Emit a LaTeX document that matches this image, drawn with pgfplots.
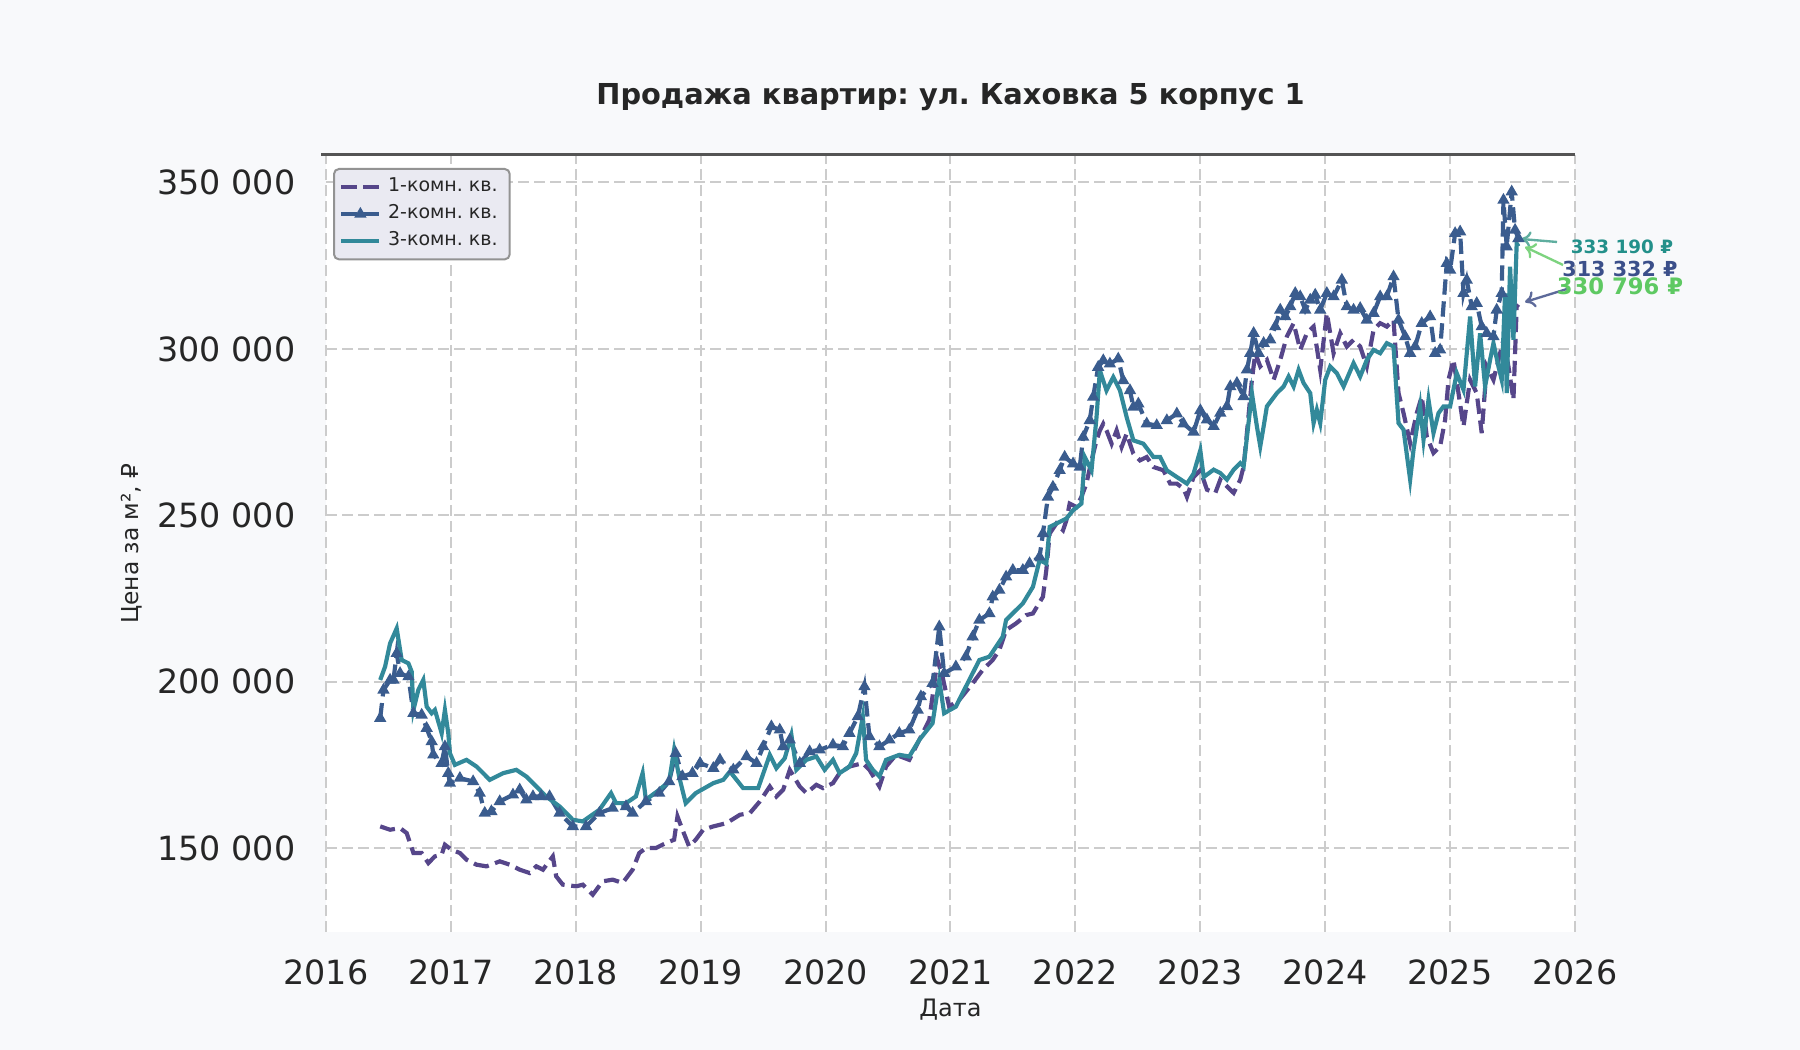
\documentclass[border=0pt]{standalone}
\usepackage{fontspec}
\setmainfont{DejaVu Sans}
\usepackage{pgfplots}
\pgfplotsset{compat=1.18}
\usetikzlibrary{arrows.meta}
\frenchspacing

\definecolor{figbg}{HTML}{F8F9FB}
\definecolor{legbg}{HTML}{EAEAF2}
\definecolor{gridc}{HTML}{CCCCCC}
\definecolor{txt}{HTML}{262626}
\definecolor{cone}{HTML}{56468A}
\definecolor{ctwo}{HTML}{3A5C8E}
\definecolor{cthree}{HTML}{32899A}
\definecolor{tone}{HTML}{23908A}
\definecolor{ttwo}{HTML}{3B4F8A}
\definecolor{tthree}{HTML}{5EC962}
\definecolor{aone}{HTML}{5FAE9F}
\definecolor{atwo}{HTML}{7DD37F}
\definecolor{athree}{HTML}{5D6A9A}

\begin{document}
\begin{tikzpicture}
\useasboundingbox (0,0) rectangle (540pt,315pt);
\fill[figbg] (0,0) rectangle (540pt,315pt);
\begin{axis}[
    at={(97.8pt,35.4pt)}, anchor=south west,
    scale only axis,
    width=374.7pt, height=233.1pt,
    xmin=2016, xmax=2026,
    ymin=124775, ymax=358264,
    clip=false,
    axis background/.style={fill=white},
    axis line style={draw=none},
    major tick length=0pt,
    xtick={2016,2017,...,2026},
    ytick={150000,200000,250000,300000,350000},
    scaled y ticks=false,
    /pgf/number format/assume math mode=true,
    xticklabel style={/pgf/number format/fixed, /pgf/number format/1000 sep={}, anchor=north, inner sep=0pt, yshift=-8pt},
    yticklabel style={/pgf/number format/fixed, /pgf/number format/1000 sep={\ }, anchor=east, inner sep=0pt, xshift=-9pt},
    tick label style={font=\fontsize{10}{12}\selectfont, text=txt},
    grid=major,
    major grid style={gridc, line width=0.6pt, dash pattern=on 3.3pt off 1.5pt},
    title={\textbf{Продажа квартир: ул. Каховка 5 корпус 1}},
    title style={at={(axis description cs:0.5,1.049)}, anchor=center, font=\fontsize{8.65}{10}\selectfont, text=txt},
    xlabel={Дата},
    xlabel style={at={(axis description cs:0.5,-0.1004)}, anchor=center, font=\fontsize{7.2}{9}\selectfont, text=txt},
    ylabel={Цена за м², ₽},
    ylabel style={at={(axis description cs:-0.1553,0.5)}, anchor=center, font=\fontsize{7}{9}\selectfont, text=txt},
    legend cell align=left,
    legend style={at={(rel axis cs:0,1)}, anchor=north west, xshift=2.1pt, yshift=-3.9pt,
        fill=legbg, draw=gray!85, line width=0.6pt, rounded corners=1.5pt,
        font=\fontsize{5.7}{7}\selectfont, text=txt, row sep=-1.6pt, inner xsep=1.6pt, inner ysep=0.6pt},
    legend image code/.code={
        \draw[mark repeat=2,mark phase=2,#1] plot coordinates {(0cm,0cm) (0.2cm,0cm) (0.4cm,0cm)};
    },
]

% 1-room
\addplot[cone, line width=1.25pt, dash pattern=on 4.6pt off 2pt] coordinates {
(2016.434,156500) (2016.513,155500) (2016.593,156000) (2016.646,154500) (2016.70,148500)
(2016.766,148500) (2016.819,145500) (2016.872,147500) (2016.926,148000) (2016.952,151000)
(2017.005,149500) (2017.072,148500) (2017.125,146500) (2017.205,145000) (2017.285,144500)
(2017.391,146000) (2017.471,145000) (2017.551,143500) (2017.630,142500) (2017.684,144500)
(2017.737,143500) (2017.816,147500) (2017.843,141500) (2017.896,139000) (2018.003,138500)
(2018.056,139000) (2018.136,136000) (2018.215,140000) (2018.295,140500) (2018.375,139500)
(2018.455,143500) (2018.508,148500) (2018.561,150000) (2018.641,150000) (2018.721,151500)
(2018.787,152500) (2018.814,159500) (2018.854,155500) (2018.907,150500) (2018.960,152500)
(2019.020,155500) (2019.101,156500) (2019.207,157500) (2019.314,160000) (2019.394,160500)
(2019.473,164000) (2019.553,168500) (2019.606,165500) (2019.660,167500) (2019.713,173500)
(2019.793,168500) (2019.846,166500) (2019.926,169000) (2019.979,168000) (2020.059,169500)
(2020.112,172500) (2020.191,174500) (2020.298,175500) (2020.351,173500) (2020.431,168500)
(2020.484,174500) (2020.564,178000) (2020.670,176500) (2020.750,182500) (2020.830,188500)
(2020.896,206500) (2020.936,201500) (2020.989,192500) (2021.070,194500) (2021.177,199500)
(2021.257,203500) (2021.338,206500) (2021.391,209500) (2021.445,215500) (2021.525,217500)
(2021.606,220000) (2021.660,220500) (2021.740,225500) (2021.767,233500) (2021.794,244500)
(2021.847,247500) (2021.901,245500) (2021.928,248500) (2021.954,253500) (2022.008,252500)
(2022.048,255500) (2022.088,259500) (2022.129,266500) (2022.169,272500) (2022.196,275500)
(2022.223,277500) (2022.249,275500) (2022.290,271500) (2022.330,275500) (2022.370,270500)
(2022.410,274500) (2022.464,268500) (2022.517,266500) (2022.571,267500) (2022.625,264500)
(2022.705,263500) (2022.759,259500) (2022.812,259500) (2022.866,258000) (2022.893,255500)
(2022.946,261500) (2023.000,263500) (2023.053,257700) (2023.120,256700) (2023.160,260700)
(2023.213,258700) (2023.267,256700) (2023.320,260700) (2023.347,264700) (2023.373,274700)
(2023.413,290700) (2023.440,298700) (2023.480,294700) (2023.533,296700) (2023.587,290700)
(2023.640,296700) (2023.693,303700) (2023.747,307700) (2023.800,299700) (2023.853,304700)
(2023.907,306700) (2023.960,293700) (2024.013,310700) (2024.067,298700) (2024.120,304700)
(2024.173,300700) (2024.227,302700) (2024.280,300700) (2024.333,294700) (2024.387,305700)
(2024.440,307700) (2024.493,306700) (2024.547,308700) (2024.587,286700) (2024.627,280700)
(2024.680,271700) (2024.733,280700) (2024.773,285700) (2024.813,273700) (2024.867,268700)
(2024.920,270700) (2024.960,278700) (2024.987,290700) (2025.027,296700) (2025.067,286700)
(2025.107,276700) (2025.160,290700) (2025.213,286700) (2025.253,274700) (2025.293,294700)
(2025.347,290700) (2025.387,296700) (2025.427,302700) (2025.467,294700) (2025.507,284700)
(2025.533,312700) (2025.547,313332)
};
\addlegendentry{1-комн. кв.}

% 2-room
\addplot[ctwo, line width=1.25pt, dash pattern=on 4.6pt off 2pt, mark=triangle*, mark size=0.9pt, mark options={solid}] coordinates {
(2016.434,189000) (2016.460,197500) (2016.513,200500) (2016.540,200500) (2016.566,208500)
(2016.593,202500) (2016.660,201500) (2016.700,190500) (2016.766,190000) (2016.806,186000)
(2016.846,182000) (2016.859,178000) (2016.926,175500) (2016.952,180500) (2016.979,172500)
(2016.992,169500) (2017.072,171000) (2017.178,170000) (2017.231,166500) (2017.271,160500)
(2017.324,161000) (2017.391,164000) (2017.497,166000) (2017.551,167500) (2017.604,164500)
(2017.657,165500) (2017.723,165500) (2017.790,165500) (2017.870,160500) (2017.976,156500)
(2018.082,156500) (2018.189,160500) (2018.295,162000) (2018.402,162500) (2018.455,160500)
(2018.561,164000) (2018.668,166500) (2018.747,170000) (2018.800,178500) (2018.854,171500)
(2018.934,172500) (2018.995,175500) (2019.101,174000) (2019.154,176500) (2019.261,173500)
(2019.367,177500) (2019.447,175500) (2019.500,180500) (2019.566,186500) (2019.633,185500)
(2019.660,180500) (2019.713,182500) (2019.793,175500) (2019.872,179000) (2019.952,179500)
(2020.059,181000) (2020.138,180500) (2020.191,184500) (2020.258,189500) (2020.311,198500)
(2020.351,183500) (2020.431,180500) (2020.511,182500) (2020.590,184500) (2020.670,185500)
(2020.737,191500) (2020.763,195500) (2020.856,199500) (2020.910,216500) (2020.949,202500)
(2021.043,204500) (2021.123,207500) (2021.177,213500) (2021.231,218500) (2021.311,220500)
(2021.338,225500) (2021.391,227500) (2021.445,231500) (2021.499,233500) (2021.579,233500)
(2021.633,235500) (2021.713,237500) (2021.740,244500) (2021.780,255500) (2021.820,258500)
(2021.874,263500) (2021.914,267500) (2021.981,265500) (2022.035,264500) (2022.062,273500)
(2022.115,278500) (2022.142,285500) (2022.182,294500) (2022.223,296500) (2022.276,295500)
(2022.343,297000) (2022.383,290500) (2022.437,287500) (2022.464,282500) (2022.504,283500)
(2022.571,277500) (2022.651,277000) (2022.732,278500) (2022.812,280500) (2022.866,277500)
(2022.946,275000) (2023.000,281500) (2023.053,278700) (2023.107,276700) (2023.160,280700)
(2023.213,282700) (2023.240,288700) (2023.293,289700) (2023.347,285700) (2023.373,293700)
(2023.400,298700) (2023.427,304700) (2023.467,298700) (2023.507,301700) (2023.560,302700)
(2023.600,306700) (2023.640,311700) (2023.680,309700) (2023.720,312700) (2023.760,316700)
(2023.800,315700) (2023.840,311700) (2023.880,314700) (2023.920,316200) (2023.960,311700)
(2024.013,316700) (2024.067,315700) (2024.133,320700) (2024.173,312700) (2024.227,311700)
(2024.280,312200) (2024.333,308700) (2024.387,310700) (2024.440,315700) (2024.493,315700)
(2024.547,321700) (2024.587,308700) (2024.640,303700) (2024.680,298700) (2024.720,300700)
(2024.773,307700) (2024.840,309700) (2024.880,298700) (2024.920,299700) (2024.973,325700)
(2025.000,323700) (2025.040,334700) (2025.080,335200) (2025.107,316700) (2025.133,320700)
(2025.173,312700) (2025.213,313700) (2025.253,306700) (2025.293,304700) (2025.347,303700)
(2025.373,311700) (2025.413,316700) (2025.427,344700) (2025.453,330700) (2025.493,347200)
(2025.520,335700) (2025.547,333190)
};
\addlegendentry{2-комн. кв.}

% 3-room
\addplot[cthree, line width=1.25pt] coordinates {
(2016.434,200500) (2016.473,204500) (2016.513,211500) (2016.566,216000) (2016.606,206500)
(2016.660,205500) (2016.686,203000) (2016.700,191500) (2016.739,197500) (2016.779,200500)
(2016.806,192500) (2016.846,190500) (2016.872,191500) (2016.926,184500) (2016.952,191500)
(2016.979,184500) (2016.992,178500) (2017.032,175000) (2017.125,176500) (2017.205,174500)
(2017.311,170500) (2017.418,172500) (2017.524,173500) (2017.604,171500) (2017.684,168500)
(2017.763,165500) (2017.870,162500) (2017.976,158500) (2018.056,158000) (2018.189,161500)
(2018.282,166500) (2018.322,163500) (2018.402,163500) (2018.481,165500) (2018.535,172500)
(2018.561,164500) (2018.668,167500) (2018.747,170000) (2018.787,179500) (2018.827,171500)
(2018.880,163500) (2018.960,166500) (2019.101,169500) (2019.181,170500) (2019.234,173000)
(2019.340,168000) (2019.460,168000) (2019.553,178000) (2019.606,174000) (2019.673,177000)
(2019.726,184000) (2019.766,173500) (2019.846,176500) (2019.926,177500) (2019.992,173500)
(2020.059,176500) (2020.112,172500) (2020.191,174500) (2020.245,178500) (2020.298,189500)
(2020.324,176500) (2020.378,173500) (2020.431,171500) (2020.484,176500) (2020.590,178000)
(2020.670,177500) (2020.750,182500) (2020.856,187500) (2020.910,200500) (2020.949,190500)
(2021.043,192500) (2021.123,198500) (2021.231,206500) (2021.311,207500) (2021.365,210500)
(2021.418,213500) (2021.445,218500) (2021.525,221500) (2021.579,223500) (2021.660,228500)
(2021.713,236500) (2021.767,235500) (2021.794,246500) (2021.847,247500) (2021.928,249000)
(2021.981,251500) (2022.048,253500) (2022.075,267500) (2022.129,263500) (2022.169,279500)
(2022.196,293500) (2022.249,287500) (2022.303,291500) (2022.357,287500) (2022.410,279500)
(2022.464,272500) (2022.544,271500) (2022.625,267500) (2022.678,267500) (2022.732,263500)
(2022.812,261500) (2022.893,259500) (2022.946,262500) (2023.000,269500) (2023.027,261500)
(2023.107,263700) (2023.160,262700) (2023.213,260700) (2023.267,263700) (2023.320,265700)
(2023.347,264700) (2023.413,286700) (2023.453,276700) (2023.480,270700) (2023.507,276700)
(2023.533,282700) (2023.573,284700) (2023.613,286700) (2023.667,288700) (2023.707,291700)
(2023.747,288700) (2023.787,293700) (2023.827,289700) (2023.880,286700) (2023.907,277700)
(2023.933,281700) (2023.960,277700) (2024.000,290700) (2024.040,294700) (2024.093,292700)
(2024.147,288700) (2024.227,295700) (2024.280,291700) (2024.333,296700) (2024.387,299700)
(2024.440,298700) (2024.493,301700) (2024.547,300700) (2024.587,277700) (2024.627,275700)
(2024.680,260700) (2024.707,269700) (2024.760,282700) (2024.787,272700) (2024.827,284700)
(2024.867,274700) (2024.907,280700) (2024.947,282700) (2025.000,282700) (2025.053,292700)
(2025.107,287700) (2025.160,309700) (2025.200,288700) (2025.240,304700) (2025.280,288700)
(2025.320,296700) (2025.347,301700) (2025.387,294700) (2025.413,290700) (2025.440,316700)
(2025.453,286700) (2025.480,324700) (2025.507,302700) (2025.533,331700) (2025.547,330796)
};
\addlegendentry{3-комн. кв.}

% top spine
\draw[color=black!67, line width=0.9pt] ([xshift=-1.5pt]rel axis cs:0,1) -- (rel axis cs:1,1);

% last-value annotations
\draw[aone, line width=0.7pt, -{To[length=3pt,width=5pt]}] (axis cs:2025.856,332120) -- (axis cs:2025.568,333020);
\draw[atwo, line width=0.7pt, -{To[length=3pt,width=5pt]}] (axis cs:2025.904,325210) -- (axis cs:2025.600,330620);
\draw[athree, line width=0.7pt, -{To[length=3pt,width=5pt]}] (axis cs:2025.936,318000) -- (axis cs:2025.600,314090);
\node[text=tone, font=\bfseries\fontsize{5.5}{6}\selectfont] at (axis cs:2026.376,330620) {333 190 ₽};
\node[text=ttwo, font=\bfseries\fontsize{6.2}{7}\selectfont] at (axis cs:2026.36,324000) {313 332 ₽};
\node[text=tthree, font=\bfseries\fontsize{6.8}{8}\selectfont] at (axis cs:2026.36,318900) {330 796 ₽};
\end{axis}
\end{tikzpicture}
\end{document}
